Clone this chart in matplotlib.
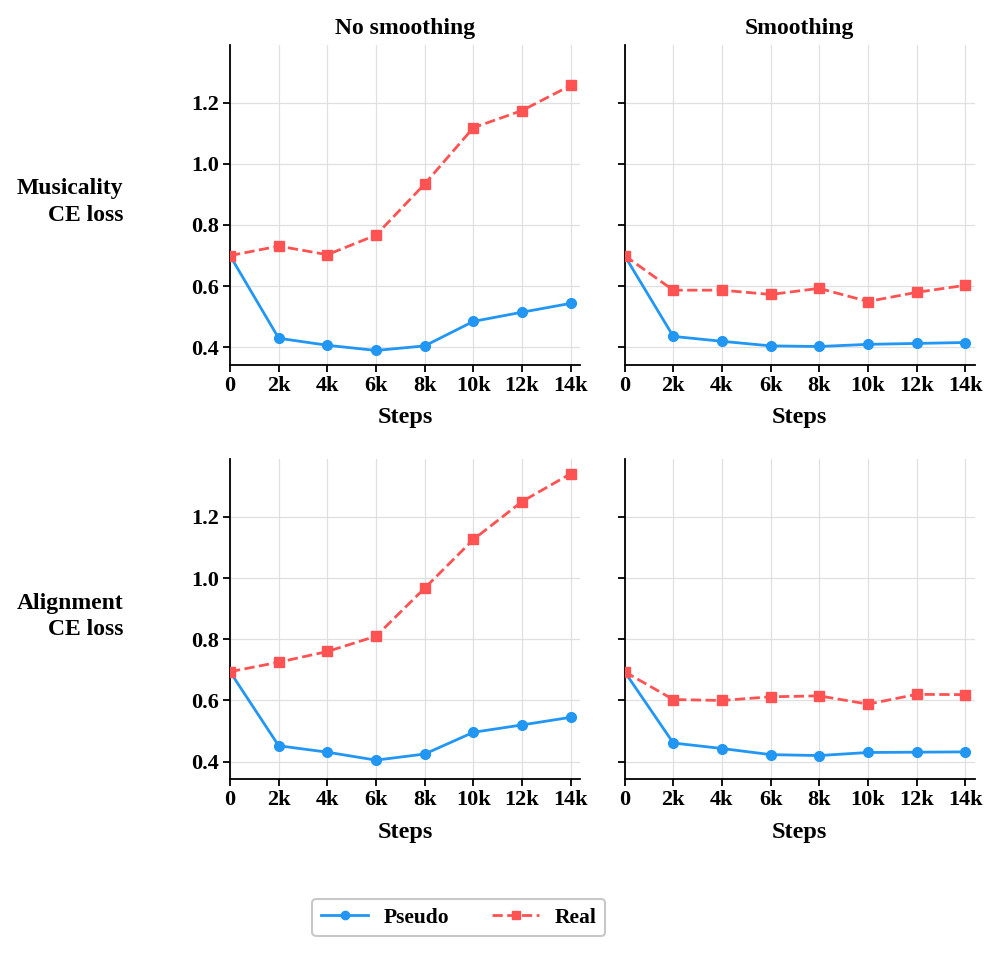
import matplotlib.pyplot as plt
import numpy as np

plt.rcParams["font.family"] = ["Liberation Serif", "DejaVu Serif"]
plt.rcParams["font.weight"] = "bold"

# Data
steps = [0, 2000, 4000, 6000, 8000, 10000, 12000, 14000]
step_labels = ["0", "2k", "4k", "6k", "8k", "10k", "12k", "14k"]
col_titles = ["No smoothing", "Smoothing"]
row_labels = ["Musicality\nCE loss", "Alignment\nCE loss"]

music_nosmooth_pseudo = [0.70, 0.430, 0.407, 0.390, 0.405, 0.485, 0.515, 0.544]
music_nosmooth_real = [0.70, 0.731, 0.703, 0.767, 0.934, 1.118, 1.174, 1.256]
music_smooth_pseudo = [0.70, 0.436, 0.420, 0.405, 0.403, 0.410, 0.413, 0.416]
music_smooth_real = [0.70, 0.587, 0.587, 0.573, 0.593, 0.550, 0.580, 0.603]

align_nosmooth_pseudo = [0.694, 0.452, 0.431, 0.405, 0.425, 0.496, 0.520, 0.545]
align_nosmooth_real = [0.694, 0.725, 0.760, 0.810, 0.967, 1.126, 1.250, 1.341]
align_smooth_pseudo = [0.694, 0.461, 0.443, 0.423, 0.420, 0.430, 0.431, 0.432]
align_smooth_real = [0.694, 0.603, 0.600, 0.612, 0.615, 0.588, 0.620, 0.619]

pseudo = [[music_nosmooth_pseudo, music_smooth_pseudo],
          [align_nosmooth_pseudo, align_smooth_pseudo]]
real = [[music_nosmooth_real, music_smooth_real],
        [align_nosmooth_real, align_smooth_real]]

blue = "#2196F3"
red = "#FF5252"

fig, axes = plt.subplots(2, 2, figsize=(9.97, 9.55), dpi=100, sharey=True)
fig.subplots_adjust(left=0.2307, right=0.978, top=0.953, bottom=0.184,
                    wspace=0.126, hspace=0.294)

for r in range(2):
    for c in range(2):
        ax = axes[r, c]
        ax.plot(steps, pseudo[r][c], color=blue, linewidth=2, marker="o",
                markersize=7, label="Pseudo", zorder=3)
        ax.plot(steps, real[r][c], color=red, linewidth=2, linestyle="--",
                marker="s", markersize=7, label="Real", zorder=3)
        ax.set_xlim(0, 14400)
        ax.set_xticks(steps)
        ax.set_xticklabels(step_labels)
        ax.set_yticks([0.4, 0.6, 0.8, 1.0, 1.2])
        ax.grid(True, color="#e0e0e0", linewidth=0.9)
        ax.set_axisbelow(True)
        ax.spines["top"].set_visible(False)
        ax.spines["right"].set_visible(False)
        ax.spines["left"].set_linewidth(1.3)
        ax.spines["bottom"].set_linewidth(1.3)
        ax.tick_params(labelsize=16, width=1.3, length=5, pad=3)
        ax.set_xlabel("Steps", fontsize=17.5, fontweight="bold", labelpad=8)
        if r == 0:
            ax.set_title(col_titles[c], fontsize=17, fontweight="bold", pad=8)

for r in range(2):
    ax = axes[r, 0]
    bb = ax.get_position()
    fig.text(0.124, (bb.y0 + bb.y1) / 2 + 0.003, row_labels[r], ha="right",
             va="center", fontsize=17, fontweight="bold", linespacing=1.35)

handles, labels = axes[0, 0].get_legend_handles_labels()
leg = fig.legend(handles, labels, loc="center", bbox_to_anchor=(0.46, 0.039),
                 ncol=2, fontsize=15.5, handlelength=2.2, handletextpad=0.7,
                 columnspacing=2.0, frameon=True, edgecolor="#bbbbbb",
                 fancybox=True, markerscale=0.85)
leg.get_frame().set_linewidth(1.5)

fig.savefig("out.png", dpi=100)
